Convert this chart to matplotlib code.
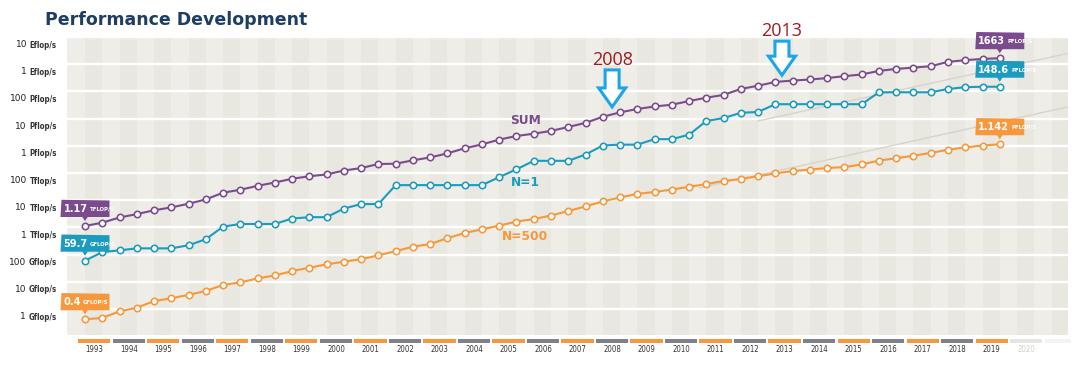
import numpy as np
import matplotlib
matplotlib.use("Agg")
import matplotlib.pyplot as plt
from matplotlib.patches import Rectangle, Polygon
from matplotlib.transforms import ScaledTranslation, blended_transform_factory

# ---------------- data (GFlop/s, one value per TOP500 list: June / November) -------------
list_dates = np.arange(1993.0, 2020.0, 0.5)

sum_gflops = [1128, 1493, 2317, 3086, 4271, 5445, 7417, 10700, 18900, 24300,
              33800, 44800, 61400, 76000, 88700, 123400, 152300, 214500, 220000, 293000,
              374000, 528000, 813000, 1127000, 1690000, 2300000, 2790000, 3530000, 4920000, 6970000,
              11700000, 16950000, 22600000, 27950000, 32400000, 44200000, 58900000, 74200000,
              123400000, 162000000, 223000000, 250000000, 274000000, 309000000, 363000000,
              420000000, 567000000, 672000000, 749000000, 845000000, 1220000000, 1410000000,
              1560000000, 1663000000]

n1_gflops = [59.7, 124, 143.4, 170, 170, 170, 220.4, 368.2, 1068, 1338,
             1338, 1338, 2121, 2379, 2379, 4938, 7226, 7226, 35860, 35860,
             35860, 35860, 35860, 35860, 70720, 136800, 280600, 280600, 280600, 478200,
             1026000, 1105000, 1105000, 1759000, 1759000, 2566000, 8162000, 10510000,
             16324750, 17590000, 33862700, 33862700, 33862700, 33862700, 33862700,
             33862700, 93014600, 93014600, 93014600, 93014600, 122300000, 143500000,
             148600000, 148600000]

n500_gflops = [0.42, 0.472, 0.822, 1.114, 1.955, 2.489, 3.306, 4.62, 7.67, 9.513,
               13.39, 17.12, 24.73, 33.11, 43.82, 55.1, 67.78, 94.3, 134.3, 195.8,
               245.1, 403.4, 624, 851, 1166, 1646, 2026, 2737, 4005, 5929,
               9000, 12640, 17090, 20050, 24670, 31120, 39090, 50940, 60820, 76500,
               96620, 117800, 133700, 153400, 164800, 206400, 286100, 349300, 432200,
               548700, 715600, 874800, 1022000, 1142000]

years = list(range(1993, 2021))
ytick_values = [1e0, 1e1, 1e2, 1e3, 1e4, 1e5, 1e6, 1e7, 1e8, 1e9, 1e10]
ytick_numbers = ["1", "10", "100", "1", "10", "100", "1", "10", "100", "1", "10"]
ytick_units = ["Gflop/s", "Gflop/s", "Gflop/s", "Tflop/s", "Tflop/s", "Tflop/s",
               "Pflop/s", "Pflop/s", "Pflop/s", "Eflop/s", "Eflop/s"]

series_names = ["SUM", "N=1", "N=500"]
start_numbers = ["1.17", "59.7", "0.4"]
start_units = ["TFLOP/S", "GFLOP/S", "GFLOP/S"]
end_numbers = ["1663", "148.6", "1.142"]
end_units = ["PFLOP/S", "PFLOP/S", "PFLOP/S"]

# trend lines (two points each)
trend_n1_x, trend_n1_y = [2012.5, 2021.476], [8.2e6, 2.5e9]
trend_n500_x, trend_n500_y = [2010.8, 2021.476], [2.8e4, 2.7e7]

# annotation arrows
arrow_labels = ["2008", "2013"]
arrow_x = [2008.27, 2013.19]
arrow_y = [2.69e7, 3.95e8]

# ---------------- style ----------------
PURPLE = "#7B4B8E"
TEAL = "#1C9BBF"
ORANGE = "#F6983B"
GRAY_BAR = "#7E8189"
colors = [PURPLE, TEAL, ORANGE]

fig = plt.figure(figsize=(10.8, 3.66), dpi=100)
fig.patch.set_facecolor("white")
ax = fig.add_axes([67 / 1080, 31 / 366, 1001 / 1080, 298 / 366])
ax.set_facecolor("#EEEDE7")
ax.set_yscale("log")
ax.set_xlim(1992.479, 2021.476)
ax.set_ylim(0.111, 1e10)
for s in ax.spines.values():
    s.set_visible(False)
ax.set_xticks([])
ax.set_yticks([])
ax.minorticks_off()

# vertical half-year stripes
for k in range(-1, 58):
    t0 = 1993.0 + 0.5 * k
    if k % 2 == 0:
        ax.axvspan(t0, t0 + 0.5, color="#E8E7E0", lw=0, zorder=0)

# horizontal white gridlines
for v in ytick_values:
    ax.axhline(v, color="white", lw=1.7, zorder=1)

# y labels: number (larger) + unit (smaller)
ytrans = blended_transform_factory(ax.transAxes, ax.transData)
for v, num, unit in zip(ytick_values, ytick_numbers, ytick_units):
    u = ax.annotate(unit, xy=(0, v), xycoords=ytrans, xytext=(-10, -8),
                    textcoords="offset pixels", ha="right", va="center",
                    fontsize=5.7, color="#333333", annotation_clip=False,
                    fontweight="bold", fontstretch="condensed")
    ax.annotate(num, xy=(0, 0.5), xycoords=u, xytext=(-2, 0.3),
                textcoords="offset points", ha="right", va="center",
                fontsize=6.5, color="#222222", annotation_clip=False)

# year bars and labels
xtrans = blended_transform_factory(ax.transData, ax.transAxes)
for y in years:
    if y == 2020:
        c, tc = "#E6E6E0", "#CFCFCB"
    elif y % 2 == 1:
        c, tc = ORANGE, "#333333"
    else:
        c, tc = GRAY_BAR, "#333333"
    ax.add_patch(Rectangle((y - 0.2, -0.0268), 0.935, 0.0134, transform=xtrans,
                           facecolor=c, edgecolor="none", clip_on=False))
    ax.text(y + 0.27, -0.050, str(y), transform=xtrans, ha="center", va="center",
            fontsize=5.6, color=tc, fontstretch="condensed", clip_on=False)
ax.add_patch(Rectangle((2020.8, -0.0268), 0.75, 0.0134, transform=xtrans,
                       facecolor="#F3F3EF", edgecolor="none", clip_on=False))

# trend lines
ax.plot(trend_n1_x, trend_n1_y, color="#D6D4CB", lw=1.0, zorder=2)
ax.plot(trend_n500_x, trend_n500_y, color="#D6D4CB", lw=1.0, zorder=2)

# series
all_series = [sum_gflops, n1_gflops, n500_gflops]
for vals, c in zip(all_series, colors):
    ax.plot(list_dates, vals, color=c, lw=1.5, marker="o", ms=4.6,
            mfc="white", mec=c, mew=1.15, zorder=4, clip_on=False)

# series name labels
label_pos = [(2005.75, 8.4e6), (2005.75, 4.67e4), (2005.75, 467)]
for name, (lx, ly), c in zip(series_names, label_pos, colors):
    ax.text(lx, ly, name, color=c, fontsize=8.8, fontweight="bold",
            ha="center", va="center", zorder=5)


def flag(x, y, num, unit, color):
    tr = fig.dpi_scale_trans + ScaledTranslation(x, y, ax.transData)
    ax.add_patch(Polygon([(-0.245, 0.09), (0.245, 0.09), (0.245, 0.255), (-0.235, 0.262)],
                         closed=True, transform=tr, facecolor=color, edgecolor="none",
                         clip_on=False, zorder=6))
    ax.add_patch(Polygon([(-0.03, 0.095), (0.03, 0.095), (0.0, 0.05)], closed=True,
                         transform=tr, facecolor=color, edgecolor="none",
                         clip_on=False, zorder=6))
    t1 = ax.text(-0.215, 0.172, num, transform=tr, color="white", fontsize=7.8,
                 fontweight="bold", ha="left", va="center", zorder=7, clip_on=False,
                 fontstretch="condensed")
    ax.annotate(unit, xy=(1, 0.5), xycoords=t1, xytext=(1.5, 0),
                textcoords="offset points", va="center", ha="left", fontsize=4.3,
                color="white", fontweight="bold", zorder=7, fontstretch="condensed")


for vals, c, n, u in zip(all_series, colors, start_numbers, start_units):
    flag(list_dates[0], vals[0], n, u, c)
for vals, c, n, u in zip(all_series, colors, end_numbers, end_units):
    flag(list_dates[-1], vals[-1], n, u, c)


def down_arrow(x, y, text, shaft_len):
    tr = fig.dpi_scale_trans + ScaledTranslation(x, y, ax.transData)
    pts = [(0, 0), (-0.135, 0.19), (-0.07, 0.19), (-0.07, shaft_len),
           (0.07, shaft_len), (0.07, 0.19), (0.135, 0.19)]
    ax.add_patch(Polygon(pts, closed=True, transform=tr, facecolor="white",
                         edgecolor="#1AA6E8", lw=2.2, joinstyle="miter",
                         clip_on=False, zorder=8))
    ax.text(0, shaft_len + 0.1, text, transform=tr, ha="center", va="center",
            fontsize=13, color="#9E1B22", family="Open Sans", zorder=8, clip_on=False)


down_arrow(arrow_x[0], arrow_y[0], arrow_labels[0], 0.37)
down_arrow(arrow_x[1], arrow_y[1], arrow_labels[1], 0.34)

# title
fig.text(45 / 1080, 1 - 20 / 366, "Performance Development", fontsize=12.5,
         fontweight="bold", color="#1D3E62", ha="left", va="center")

fig.savefig("out.png", dpi=100, facecolor="white")
